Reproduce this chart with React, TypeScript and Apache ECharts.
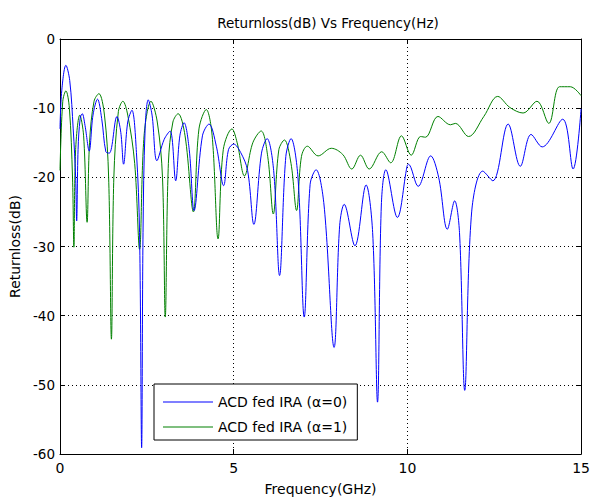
import React, { useEffect, useRef } from "react";
import * as echarts from "echarts";

const blueX = [0, 0.05, 0.17, 0.28, 0.38, 0.45, 0.48, 0.52, 0.58, 0.64, 0.72, 0.84, 0.95, 1.08, 1.2, 1.32, 1.42, 1.64, 1.75, 1.83, 1.95, 2.07, 2.2, 2.29, 2.35, 2.39, 2.45, 2.54, 2.65, 2.79, 3.0, 3.17, 3.33, 3.45, 3.57, 3.72, 3.86, 4.1, 4.29, 4.5, 4.71, 4.85, 5.0, 5.2, 5.4, 5.58, 5.8, 5.96, 6.15, 6.32, 6.5, 6.65, 6.85, 7.03, 7.2, 7.37, 7.6, 7.89, 8.05, 8.18, 8.49, 8.81, 9.0, 9.14, 9.25, 9.38, 9.71, 9.99, 10.03, 10.31, 10.67, 10.9, 11.15, 11.36, 11.5, 11.65, 11.85, 12.17, 12.46, 12.9, 13.25, 13.56, 13.88, 14.47, 14.77, 15.0];
const blueY = [-13, -7.5, -3.8, -6, -13, -20, -26.3, -16, -11.5, -10.8, -12.5, -16.2, -11, -8.7, -11.5, -16.3, -16.5, -11.2, -13.5, -18.1, -12, -10.3, -16.4, -28, -59.1, -28, -13, -8.8, -11, -17.6, -14.5, -13.3, -20.5, -14, -12.1, -16, -24.8, -14, -12.3, -15.5, -21.2, -16, -15.2, -16.4, -19, -26.8, -16.5, -14.4, -19, -34.2, -17, -14.4, -20, -40.2, -21, -18.9, -24, -44.6, -27, -23.9, -29.9, -21.1, -28, -52.5, -24, -18.9, -25.8, -18.4, -18.1, -21.3, -16.9, -20, -27.5, -23.4, -28, -50.8, -25, -19.1, -20.5, -12.3, -18.4, -13.8, -15.6, -11.6, -18.8, -10.1];

const greenX = [0, 0.08, 0.17, 0.27, 0.36, 0.4, 0.45, 0.57, 0.68, 0.78, 0.85, 0.98, 1.12, 1.28, 1.4, 1.48, 1.55, 1.68, 1.81, 1.95, 2.15, 2.29, 2.42, 2.62, 2.8, 2.95, 3.03, 3.12, 3.25, 3.4, 3.6, 3.84, 4.0, 4.21, 4.38, 4.55, 4.7, 4.95, 5.1, 5.31, 5.55, 5.79, 5.98, 6.14, 6.3, 6.46, 6.65, 6.81, 6.95, 7.12, 7.43, 7.81, 8.14, 8.4, 8.65, 8.9, 9.26, 9.52, 9.83, 10.11, 10.38, 10.52, 10.88, 11.24, 11.38, 11.76, 12.2, 12.6, 12.95, 13.33, 13.73, 14.07, 14.38, 14.69, 15.0];
const greenY = [-19, -9, -7.5, -10, -20, -30.1, -16, -11, -14, -26.5, -15, -9, -7.9, -11, -20, -43.4, -20, -10.5, -9, -11, -18, -30.4, -14, -9, -12, -20, -40.2, -18, -12, -10.8, -14, -25, -13, -10.2, -14, -28.9, -16, -13, -15, -19.8, -15, -13.3, -17, -25.3, -16, -14.6, -18, -24.8, -17, -15.5, -16.9, -15.8, -16.7, -18.8, -16.8, -18.8, -16.3, -17.9, -14, -16.8, -14.1, -14.2, -11.2, -12.4, -12.2, -14.1, -11.2, -8.3, -9.9, -10.7, -9, -12.2, -6.9, -6.9, -8.2];

const seriesNames = ["ACD fed IRA (\u03b1=0)", "ACD fed IRA (\u03b1=1)"];
const xTicks = { min: 0, max: 15, interval: 5 };
const yTicks = { min: -60, max: 0, interval: 10 };

export default function App() {
  const ref = useRef<HTMLDivElement>(null);
  useEffect(() => {
    if (!ref.current) return;
    const chart = echarts.init(ref.current, undefined, { renderer: "svg" });
    const font = "'DejaVu Sans', 'Liberation Sans', Arial, sans-serif";
    const zip = (xs: number[], ys: number[]) => xs.map((x, i) => [x, ys[i]]);
    chart.setOption({
      animation: false,
      backgroundColor: "#fff",
      textStyle: { fontFamily: font },
      title: {
        text: "Returnloss(dB) Vs Frequency(Hz)",
        left: 323,
        textAlign: "center",
        top: 11,
        textStyle: { fontFamily: font, fontSize: 13.5, fontWeight: "normal", color: "#000" },
      },
      grid: { left: 59.5, right: 7, top: 39, bottom: 46 },
      legend: {
        orient: "vertical",
        left: 154,
        top: 384,
        backgroundColor: "#fff",
        borderColor: "#000",
        borderWidth: 1,
        borderRadius: 0,
        padding: [10, 10, 5, 9],
        icon: "rect",
        itemWidth: 50,
        itemHeight: 1,
        itemGap: 9,
        textStyle: { fontFamily: font, fontSize: 14, color: "#000", lineHeight: 16 },
        data: seriesNames,
      },
      xAxis: [
        {
          type: "value",
          ...xTicks,
          name: "Frequency(GHz)",
          nameLocation: "middle",
          nameGap: 28,
          nameTextStyle: { fontFamily: font, fontSize: 14, color: "#000" },
          axisLine: { show: true, onZero: false, lineStyle: { color: "#000", width: 1 } },
          axisTick: { show: true, inside: true, length: 5, lineStyle: { color: "#000" } },
          axisLabel: { fontFamily: font, fontSize: 14, color: "#000", margin: 7 },
          splitLine: { show: true, lineStyle: { color: "#000", type: [1, 3], width: 1 } },
        },
        {
          type: "value",
          ...xTicks,
          position: "top",
          axisLine: { show: true, onZero: false, lineStyle: { color: "#000", width: 1 } },
          axisTick: { show: true, inside: true, length: 5, lineStyle: { color: "#000" } },
          axisLabel: { show: false },
          splitLine: { show: false },
        },
      ],
      yAxis: [
        {
          type: "value",
          ...yTicks,
          name: "Returnloss(dB)",
          nameLocation: "middle",
          nameGap: 38,
          nameTextStyle: { fontFamily: font, fontSize: 14, color: "#000" },
          axisLine: { show: true, onZero: false, lineStyle: { color: "#000", width: 1 } },
          axisTick: { show: true, inside: true, length: 5, lineStyle: { color: "#000" } },
          axisLabel: { fontFamily: font, fontSize: 13.5, color: "#000", margin: 5 },
          splitLine: { show: true, lineStyle: { color: "#000", type: [1, 3], width: 1 } },
        },
        {
          type: "value",
          ...yTicks,
          position: "right",
          axisLine: { show: true, onZero: false, lineStyle: { color: "#000", width: 1 } },
          axisTick: { show: true, inside: true, length: 5, lineStyle: { color: "#000" } },
          axisLabel: { show: false },
          splitLine: { show: false },
        },
      ],
      series: [
        {
          name: seriesNames[0],
          type: "line",
          data: zip(blueX, blueY),
          symbol: "none",
          smooth: 0.35,
          lineStyle: { color: "#0000ff", width: 1 },
          itemStyle: { color: "#0000ff" },
          z: 3,
        },
        {
          name: seriesNames[1],
          type: "line",
          data: zip(greenX, greenY),
          symbol: "none",
          smooth: 0.35,
          lineStyle: { color: "#008000", width: 1 },
          itemStyle: { color: "#008000" },
          z: 2,
        },
      ],
    });
    return () => chart.dispose();
  }, []);
  return (
    <div
      ref={ref}
      style={{ position: "fixed", left: 0, top: 0, width: 593, height: 501, background: "#fff" }}
    />
  );
}
